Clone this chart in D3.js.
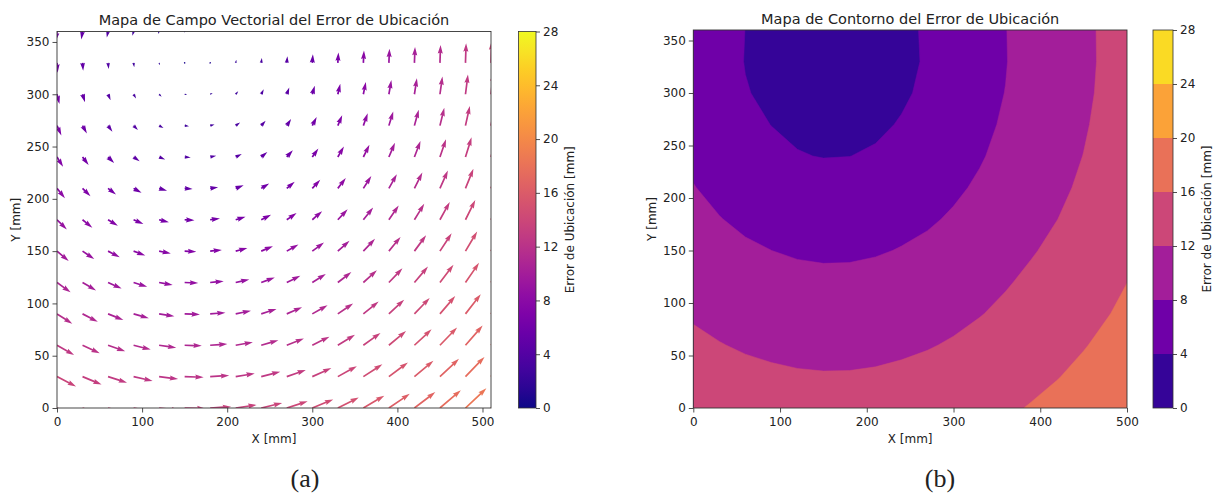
<!DOCTYPE html>
<html>
<head>
<meta charset="utf-8">
<script src="https://cdn.jsdelivr.net/npm/d3@7"></script>
<style>
  body { margin: 0; background: #fff; }
  text { font-family: 'DejaVu Sans', sans-serif; fill: #222; }
  .caption { font-family: 'Liberation Serif', 'Times New Roman', serif; font-size: 26px; }
</style>
</head>
<body>
<div class="chart"></div>
<script>
// measurement grid [mm]
var xGrid = [0, 30, 60, 90, 120, 150, 180, 210, 240, 270, 300, 330, 360, 390, 420, 450, 480, 510];
var yGrid = [0, 30, 60, 90, 120, 150, 180, 210, 240, 270, 300, 330, 360];
// horizontal error component, read row by row (it stays the same along a row)
var uRow = [13.4, 12.2, 11.0, 9.8, 8.7, 7.5, 6.3, 5.1, 3.9, 2.8, 1.6, 0.4, -0.8];
// vertical error component, read column by column
var vCol = [-6.3, -5.1, -3.9, -2.8, -1.6, -0.4, 0.8, 2.0, 3.2, 4.3, 5.5, 6.7, 7.9, 9.1, 10.2, 11.4, 12.6, 13.8];

var levels = [0, 4, 8, 12, 16, 20, 24, 28];
var xTicks = [0, 100, 200, 300, 400, 500];
var yTicks = [0, 50, 100, 150, 200, 250, 300, 350];

var fullWidth = 1217;
var fullHeight = 495;

var svg = d3.select('.chart')
  .append('svg')
  .attr('width', fullWidth)
  .attr('height', fullHeight);

var color = d3.scaleSequential(d3.interpolatePlasma).domain([0, 28]);

// one record per arrow
var arrows = [];
yGrid.forEach(function(y, j) {
  xGrid.forEach(function(x, i) {
    var u = uRow[j], v = vCol[i];
    arrows.push({ x: x, y: y, u: u, v: v, m: Math.sqrt(u * u + v * v) });
  });
});

// ---------- panel (a): vector field ----------
var pa = { left: 57, right: 491, top: 31.5, bottom: 408 };
var xA = d3.scaleLinear().domain([0, 510]).range([pa.left, pa.right]);
var yA = d3.scaleLinear().domain([0, 360]).range([pa.bottom, pa.top]);

svg.append('clipPath').attr('id', 'clipA')
  .append('rect')
  .attr('x', pa.left).attr('y', pa.top)
  .attr('width', pa.right - pa.left).attr('height', pa.bottom - pa.top);

var shaftW = 1.7;
var lenScale = d3.scaleLinear().domain([0, 10]).range([0, 15.6]);

// arrow outline like matplotlib quiver (units of shaft width)
function arrowPath(d) {
  var L = lenScale(d.m) / shaftW;
  var X, Y;
  if (L < 1) {
    X = d3.range(8).map(k => Math.cos(k * Math.PI / 3) * 0.5);
    Y = d3.range(8).map(k => Math.sin(k * Math.PI / 3) * 0.5);
  } else if (L < 5) {
    var s = L / 5;
    X = [0, 0.5, 0, 5, 0, 0.5, 0, 0].map(a => a * s);
    Y = [0.5, 0.5, 1.5, 0, -1.5, -0.5, -0.5, 0.5].map(a => a * s);
  } else {
    X = [0, L - 4.5, L - 5, L, L - 5, L - 4.5, 0, 0];
    Y = [0.5, 0.5, 1.5, 0, -1.5, -0.5, -0.5, 0.5];
  }
  var ang = Math.atan2(d.v, d.u), c = Math.cos(ang), sn = Math.sin(ang);
  var x0 = xA(d.x), y0 = yA(d.y);
  return 'M' + X.map(function(px, k) {
    var xx = px * c - Y[k] * sn, yy = px * sn + Y[k] * c;
    return [x0 + xx * shaftW, y0 - yy * shaftW];
  }).join('L') + 'Z';
}

svg.append('g')
  .attr('clip-path', 'url(#clipA)')
  .selectAll('path')
  .data(arrows)
  .enter()
  .append('path')
  .attr('d', arrowPath)
  .attr('fill', d => color(d.m));

// ---------- panel (b): filled contours ----------
var pb = { left: 693.3, right: 1127, top: 30, bottom: 408 };
var xB = d3.scaleLinear().domain([0, 500]).range([pb.left, pb.right]);
var yB = d3.scaleLinear().domain([0, 360]).range([pb.bottom, pb.top]);

svg.append('clipPath').attr('id', 'clipB')
  .append('rect')
  .attr('x', pb.left).attr('y', pb.top)
  .attr('width', pb.right - pb.left).attr('height', pb.bottom - pb.top);

var nx = xGrid.length, ny = yGrid.length;
var values = arrows.map(d => d.m);
var step = xGrid[1] - xGrid[0];
var contours = d3.contours()
  .size([nx, ny])
  .smooth(false)
  .thresholds(levels.slice(0, -1))(values);

function sample(i, j) { return arrows[j * nx + i]; }

// where |(u,v)| reaches the level on the segment a -> b (components vary linearly)
function crossing(a, b, level) {
  var du = b.u - a.u, dv = b.v - a.v;
  var A = du * du + dv * dv, B = 2 * (a.u * du + a.v * dv), C = a.m * a.m - level * level;
  var disc = B * B - 4 * A * C;
  if (A < 1e-9 || disc < 0) return (level - a.m) / (b.m - a.m);
  var r = Math.sqrt(disc);
  var t = (-B - r) / (2 * A);
  if (t >= -1e-6 && t <= 1 + 1e-6) return t;
  return (-B + r) / (2 * A);
}

// move a marching-squares vertex onto the level (sample i sits at i + 0.5)
function refine(p, level) {
  var x = p[0], y = p[1];
  if (Number.isInteger(x) && x > 0 && x < nx) {
    var j = Math.min(ny - 1, Math.floor(y));
    return [x - 0.5 + crossing(sample(x - 1, j), sample(x, j), level), y];
  }
  if (Number.isInteger(y) && y > 0 && y < ny) {
    var i = Math.min(nx - 1, Math.floor(x));
    return [x, y - 0.5 + crossing(sample(i, y - 1), sample(i, y), level)];
  }
  return p;
}

// grid coords -> mm -> pixels
var gx = p => xB(xGrid[0] + (p[0] - 0.5) * step);
var gy = p => yB(yGrid[0] + (p[1] - 0.5) * step);

function contourPath(c) {
  var s = '';
  c.coordinates.forEach(function(poly) {
    poly.forEach(function(ring) {
      s += 'M' + ring.map(p => refine(p, c.value)).map(p => [gx(p), gy(p)]).join('L') + 'Z';
    });
  });
  return s;
}

svg.append('g')
  .attr('clip-path', 'url(#clipB)')
  .selectAll('path')
  .data(contours)
  .enter()
  .append('path')
  .attr('d', contourPath)
  .attr('fill-rule', 'evenodd')
  .attr('fill', d => color(d.value + 2))
  .attr('stroke', d => color(d.value + 2))
  .attr('stroke-width', 0.5);

// ---------- axes ----------
function drawAxes(p, xs, ys, title, titleY, yLabelX) {
  svg.append('g')
    .attr('transform', 'translate(0,' + p.bottom + ')')
    .call(d3.axisBottom(xs).tickValues(xTicks).tickSizeInner(4.5).tickSizeOuter(0).tickPadding(4.5))
    .call(g => g.select('.domain').remove())
    .call(g => g.selectAll('text').style('font-size', '12px').style('font-family', 'DejaVu Sans'))
    .call(g => g.selectAll('line').attr('stroke', '#222').attr('stroke-width', 0.8));

  svg.append('g')
    .attr('transform', 'translate(' + p.left + ',0)')
    .call(d3.axisLeft(ys).tickValues(yTicks).tickSizeInner(4.5).tickSizeOuter(0).tickPadding(3))
    .call(g => g.select('.domain').remove())
    .call(g => g.selectAll('text').style('font-size', '12px').style('font-family', 'DejaVu Sans'))
    .call(g => g.selectAll('line').attr('stroke', '#222').attr('stroke-width', 0.8));

  svg.append('rect')
    .attr('x', p.left).attr('y', p.top)
    .attr('width', p.right - p.left).attr('height', p.bottom - p.top)
    .attr('fill', 'none').attr('stroke', '#333').attr('stroke-width', 0.9);

  svg.append('text')
    .attr('x', (p.left + p.right) / 2).attr('y', titleY)
    .attr('text-anchor', 'middle').style('font-size', '14.5px')
    .text(title);

  svg.append('text')
    .attr('x', (p.left + p.right) / 2).attr('y', 443)
    .attr('text-anchor', 'middle').style('font-size', '12px')
    .text('X [mm]');

  svg.append('text')
    .attr('transform', 'translate(' + yLabelX + ',' + (p.top + p.bottom) / 2 + ') rotate(-90)')
    .attr('text-anchor', 'middle').attr('dy', '0.35em').style('font-size', '12px')
    .text('Y [mm]');
}

drawAxes(pa, xA, yA, 'Mapa de Campo Vectorial del Error de Ubicación', 25, 16);
drawAxes(pb, xB, yB, 'Mapa de Contorno del Error de Ubicación', 23.5, 652);

// ---------- colorbars ----------
var grad = svg.append('defs').append('linearGradient')
  .attr('id', 'plasmaGrad')
  .attr('x1', 0).attr('y1', 1).attr('x2', 0).attr('y2', 0);
grad.selectAll('stop')
  .data(d3.range(0, 1.0001, 0.05))
  .enter()
  .append('stop')
  .attr('offset', d => d)
  .attr('stop-color', d => d3.interpolatePlasma(d));

function drawColorbar(x0, x1, top, bottom, filled) {
  var cs = d3.scaleLinear().domain([0, 28]).range([bottom, top]);
  if (filled) {
    svg.append('g')
      .selectAll('rect')
      .data(levels.slice(0, -1))
      .enter()
      .append('rect')
      .attr('x', x0).attr('width', x1 - x0)
      .attr('y', d => cs(d + 4)).attr('height', d => cs(d) - cs(d + 4))
      .attr('fill', d => color(d + 2));
  } else {
    svg.append('rect')
      .attr('x', x0).attr('y', top)
      .attr('width', x1 - x0).attr('height', bottom - top)
      .attr('fill', 'url(#plasmaGrad)');
  }
  svg.append('rect')
    .attr('x', x0).attr('y', top)
    .attr('width', x1 - x0).attr('height', bottom - top)
    .attr('fill', 'none').attr('stroke', '#333').attr('stroke-width', 0.8);

  svg.append('g')
    .attr('transform', 'translate(' + x1 + ',0)')
    .call(d3.axisRight(cs).tickValues(levels).tickSizeInner(4).tickSizeOuter(0).tickPadding(3))
    .call(g => g.select('.domain').remove())
    .call(g => g.selectAll('text').style('font-size', '12px').style('font-family', 'DejaVu Sans'))
    .call(g => g.selectAll('line').attr('stroke', '#222').attr('stroke-width', 0.8));

  svg.append('text')
    .attr('transform', 'translate(' + (x1 + 34) + ',' + (top + bottom) / 2 + ') rotate(-90)')
    .attr('text-anchor', 'middle').attr('dy', '0.35em').style('font-size', '12px')
    .text('Error de Ubicación [mm]');
}

drawColorbar(518.5, 536, 31.5, 408, false);
drawColorbar(1153, 1173, 30, 408, true);

// captions
svg.append('text').attr('class', 'caption')
  .attr('x', 305).attr('y', 487).attr('text-anchor', 'middle').text('(a)');
svg.append('text').attr('class', 'caption')
  .attr('x', 940).attr('y', 487).attr('text-anchor', 'middle').text('(b)');
</script>
</body>
</html>
